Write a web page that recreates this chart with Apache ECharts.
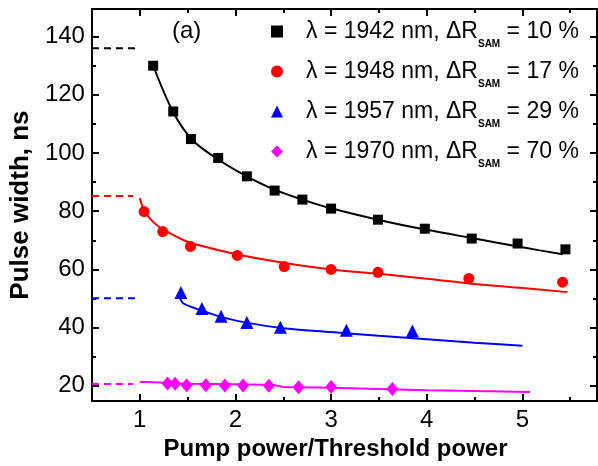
<!DOCTYPE html>
<html>
<head>
<meta charset="utf-8">
<script src="https://cdn.jsdelivr.net/npm/echarts@6/dist/echarts.min.js"></script>
<style>
  html, body { margin: 0; padding: 0; background: #fff; }
  #chart { width: 598px; height: 466px; }
</style>
</head>
<body>
<div id="chart"></div>
<script>
const pumpBlack = [1.14, 1.35, 1.535, 1.82, 2.12, 2.41, 2.70, 3.00, 3.49, 3.98, 4.47, 4.95, 5.45]
const widthBlack = [130, 114.3, 104.8, 98.3, 92, 87.1, 84, 80.9, 77.1, 74, 70.6, 68.9, 66.9]
const pumpRed = [1.045, 1.24, 1.53, 2.02, 2.51, 3.0, 3.49, 4.44, 5.42]
const widthRed = [79.9, 73, 67.9, 64.8, 61, 60, 59, 56.9, 55.6]
const pumpBlue = [1.43, 1.65, 1.85, 2.12, 2.47, 3.16, 3.85]
const widthBlue = [52.1, 46.6, 43.9, 41.8, 40.1, 39.1, 38.8]
const pumpMag = [1.29, 1.37, 1.49, 1.69, 1.89, 2.08, 2.35, 2.66, 3.0, 3.64]
const widthMag = [20.8, 20.7, 20.2, 20.2, 20.1, 20.1, 20, 19.5, 19.6, 18.9]

// fit curves
const fitBlackX = [1.14, 1.35, 1.55, 1.8, 2.1, 2.4, 2.7, 3.0, 3.5, 4.0, 4.5, 5.0, 5.42]
const fitBlackY = [130, 114, 104.5, 98.2, 92.3, 87.5, 84, 81, 77, 73.6, 70.6, 67.6, 65.2]
const fitRedX = [1.0, 1.05, 1.15, 1.25, 1.5, 2.0, 2.5, 3.0, 3.5, 4.0, 4.5, 5.0, 5.47]
const fitRedY = [84.5, 80, 76, 73.6, 69.5, 65.3, 62.3, 60, 58.5, 56.8, 55, 53.6, 52.2]
const fitBlueX = [1.41, 1.45, 1.55, 1.7, 1.85, 2.1, 2.5, 3.0, 3.5, 4.0, 4.5, 5.0]
const fitBlueY = [51, 48.5, 47, 45.3, 43.7, 41.8, 39.8, 38.5, 37.2, 36, 34.8, 33.8]
const fitMagX = [1.0, 1.07, 1.08, 1.5, 2.0, 2.4, 2.5, 3.0, 3.5, 4.0, 4.5, 5.08]
const fitMagY = [21.3, 21.3, 20.8, 20.7, 20.5, 20.3, 19.6, 19.3, 18.9, 18.5, 18.2, 17.9]

// dashed levels on the left (low pump limit)
const dashLevels = [136, 85.2, 50.1, 20.6]
const dashEnds = [0.95, 0.93, 0.95, 0.93]

const seriesNames = ['1942', '1948', '1957', '1970']
const legendHead = ['λ = 1942 nm, ΔR', 'λ = 1948 nm, ΔR', 'λ = 1957 nm, ΔR', 'λ = 1970 nm, ΔR']
const legendTail = [' = 10 %', ' = 17 %', ' = 29 %', ' = 70 %']
const colors = ['#000000', '#ff0000', '#0000ff', '#ff00ff']

const xTicks = [1, 2, 3, 4, 5]
const xMinorTicks = [1.5, 2.5, 3.5, 4.5, 5.5]
const yTicks = [20, 40, 60, 80, 100, 120, 140]
const yMinorTicks = [30, 50, 70, 90, 110, 130]

const font = 'Liberation Sans, Arial, sans-serif'
const xMin = 0.5, xMax = 5.78
const yMin = 14.75, yMax = 149.5

function zip(xs, ys) {
  return xs.map((x, i) => [x, ys[i]])
}

function axis(position, min, max, ticks, major, labels) {
  return {
    type: 'value',
    position: position,
    min: min,
    max: max,
    axisLine: { show: major, onZero: false, lineStyle: { color: '#000', width: 2 } },
    axisTick: {
      show: true, inside: true, length: major ? 7 : 4, customValues: ticks,
      lineStyle: { color: '#000', width: 2 }
    },
    axisLabel: {
      show: labels, customValues: ticks, margin: 7,
      color: '#000', fontSize: 24, fontFamily: font
    },
    splitLine: { show: false }
  }
}

const xBottom = axis('bottom', xMin, xMax, xTicks, true, true)
xBottom.name = 'Pump power/Threshold power'
xBottom.nameLocation = 'middle'
xBottom.nameGap = 35
xBottom.nameTextStyle = { fontSize: 24, fontWeight: 'bold', color: '#000', fontFamily: font, padding: [0, 18, 0, 0] }

const yLeft = axis('left', yMin, yMax, yTicks, true, true)
yLeft.name = 'Pulse width, ns'
yLeft.nameLocation = 'middle'
yLeft.nameGap = 57
yLeft.nameTextStyle = { fontSize: 26, fontWeight: 'bold', color: '#000', fontFamily: font }

const chart = echarts.init(document.getElementById('chart'))

const dashSeries = dashLevels.map((v, i) => ({
  type: 'line',
  data: [[xMin, v], [dashEnds[i], v]],
  symbol: 'none',
  silent: true,
  lineStyle: { color: colors[i], width: 2, type: [7, 5] },
  z: 2
}))

const fitSeries = [
  [fitBlackX, fitBlackY, true],
  [fitRedX, fitRedY, true],
  [fitBlueX, fitBlueY, true],
  [fitMagX, fitMagY, false]
].map((f, i) => ({
  type: 'line',
  data: zip(f[0], f[1]),
  symbol: 'none',
  smooth: f[2] ? 0.3 : false,
  silent: true,
  lineStyle: { color: colors[i], width: 2 },
  z: 3
}))

const markers = [
  ['rect', 10, pumpBlack, widthBlack],
  ['circle', 11, pumpRed, widthRed],
  ['triangle', 13, pumpBlue, widthBlue],
  ['diamond', [12, 14], pumpMag, widthMag]
]
const pointSeries = markers.map((m, i) => ({
  name: seriesNames[i],
  type: 'scatter',
  symbol: m[0],
  symbolSize: m[1],
  data: zip(m[2], m[3]),
  itemStyle: { color: colors[i], opacity: 1 },
  z: 4
}))

chart.setOption({
  animation: false,
  grid: { left: 89, right: 1, top: 9, bottom: 64, containLabel: false },
  xAxis: [
    xBottom,
    axis('bottom', xMin, xMax, xMinorTicks, false, false),
    axis('top', xMin, xMax, xTicks, true, false),
    axis('top', xMin, xMax, xMinorTicks, false, false)
  ],
  yAxis: [
    yLeft,
    axis('left', yMin, yMax, yMinorTicks, false, false),
    axis('right', yMin, yMax, yTicks, true, false),
    axis('right', yMin, yMax, yMinorTicks, false, false)
  ],
  legend: {
    orient: 'vertical',
    left: 266,
    top: 15,
    itemWidth: 12,
    itemHeight: 12,
    itemGap: 11,
    selectedMode: false,
    data: [
      { name: '1942', icon: 'rect', itemStyle: { opacity: 1 } },
      { name: '1948', icon: 'circle', itemStyle: { opacity: 1 } },
      { name: '1957', icon: 'triangle', itemStyle: { opacity: 1 } },
      { name: '1970', icon: 'diamond', itemStyle: { opacity: 1 } }
    ],
    formatter: function (name) {
      const i = seriesNames.indexOf(name)
      return '{g| }{a|' + legendHead[i] + '}{s|SAM}{a|' + legendTail[i] + '}'
    },
    textStyle: {
      rich: {
        g: { width: 18 },
        a: { fontSize: 23, lineHeight: 35, color: '#000', fontFamily: font },
        s: { fontSize: 10, fontWeight: 'bold', lineHeight: 11, verticalAlign: 'bottom', color: '#000', fontFamily: font }
      }
    }
  },
  graphic: [{
    type: 'text',
    left: 172,
    top: 19,
    style: { text: '(a)', font: '24px ' + font, fill: '#000' }
  }],
  series: dashSeries.concat(fitSeries, pointSeries)
})
</script>
</body>
</html>
